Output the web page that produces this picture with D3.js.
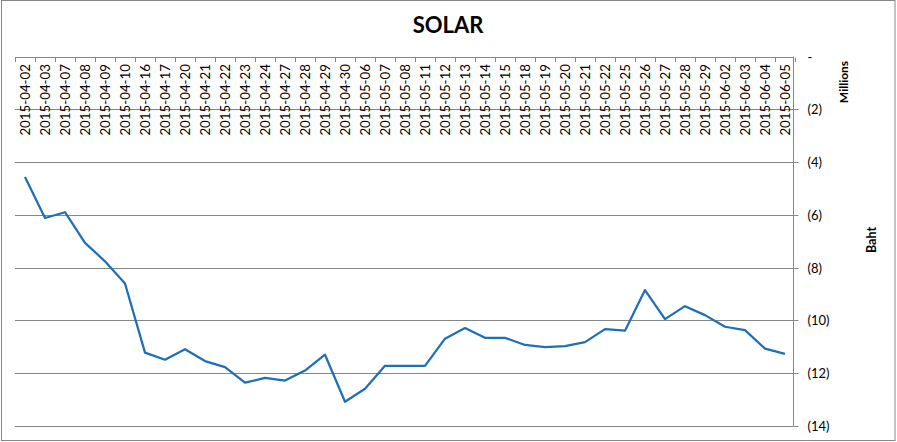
<!DOCTYPE html>
<html>
<head>
<meta charset="utf-8">
<script src="https://cdn.jsdelivr.net/npm/d3@7"></script>
<style>
  html, body { margin: 0; padding: 0; background: #fff; }
  svg { display: block; }
  text { font-family: Lato, "Open Sans", sans-serif; fill: #000; }
</style>
</head>
<body>
<div id="chart"></div>
<script>
const title = "SOLAR";
const dates = ["2015-04-02","2015-04-03","2015-04-07","2015-04-08","2015-04-09","2015-04-10","2015-04-16","2015-04-17","2015-04-20","2015-04-21","2015-04-22","2015-04-23","2015-04-24","2015-04-27","2015-04-28","2015-04-29","2015-04-30","2015-05-06","2015-05-07","2015-05-08","2015-05-11","2015-05-12","2015-05-13","2015-05-14","2015-05-15","2015-05-18","2015-05-19","2015-05-20","2015-05-21","2015-05-22","2015-05-25","2015-05-26","2015-05-27","2015-05-28","2015-05-29","2015-06-02","2015-06-03","2015-06-04","2015-06-05"];
// values in millions of Baht
const values = [-4.57,-6.12,-5.90,-7.06,-7.76,-8.60,-11.22,-11.49,-11.09,-11.54,-11.77,-12.36,-12.18,-12.28,-11.90,-11.30,-13.08,-12.59,-11.72,-11.72,-11.72,-10.69,-10.29,-10.66,-10.66,-10.93,-11.01,-10.97,-10.82,-10.33,-10.39,-8.85,-9.95,-9.46,-9.80,-10.24,-10.37,-11.07,-11.27];
const yTicks = [0,-2,-4,-6,-8,-10,-12,-14];
const yUnitLabel = "Millions";
const yAxisTitle = "Baht";

const W = 897, H = 442;
const plot = { left: 15, right: 795, top: 56.5, bottom: 426 };

const svg = d3.select("#chart").append("svg").attr("width", W).attr("height", H);

// outer border
svg.append("rect").attr("x", 1.5).attr("y", 0.5).attr("width", 893.5).attr("height", 440)
  .attr("fill", "#fff").attr("stroke", "#868686").attr("stroke-width", 1);

const x = d3.scaleBand().domain(dates).range([plot.left, plot.right]).padding(0);
const y = d3.scaleLinear().domain([0, -14]).range([plot.top, plot.bottom]);

const axisX = 793.5;

// gridlines
svg.append("g").selectAll("line").data(yTicks).join("line")
  .attr("x1", plot.left).attr("x2", axisX)
  .attr("y1", d => Math.round(y(d)) + 0.5).attr("y2", d => Math.round(y(d)) + 0.5)
  .attr("stroke", "#868686").attr("stroke-width", 1);

// right y axis
const yAxis = d3.axisRight(y).tickValues(yTicks).tickSize(5).tickPadding(9)
  .tickFormat(d => d === 0 ? "-" : "(" + Math.abs(d) + ")");
const gy = svg.append("g").attr("transform", `translate(${axisX},0)`).call(yAxis);
gy.select(".domain").attr("stroke", "#868686").attr("d", `M0,${y(0)}V${y(-14)}`);
gy.selectAll(".tick line").attr("stroke", "#868686");
gy.selectAll(".tick").attr("transform", d => `translate(0,${Math.round(y(d)) + 0.5})`);
gy.selectAll(".tick text").style("font-size", "13px").attr("fill", "#000");
gy.selectAll(".tick").filter(d => d === 0).select("line").remove();

// top category axis (ticks at band boundaries)
const boundaries = dates.map(d => x(d)).concat([x(dates[dates.length - 1]) + x.bandwidth()]);
svg.append("g").selectAll("line").data(boundaries).join("line")
  .attr("x1", d => Math.round(d) + 0.5).attr("x2", d => Math.round(d) + 0.5)
  .attr("y1", Math.round(y(0)) + 0.5).attr("y2", Math.round(y(0)) + 5)
  .attr("stroke", "#868686");

svg.append("g").selectAll("text").data(dates).join("text")
  .attr("transform", d => `translate(${x(d) + x.bandwidth() / 2},64) rotate(-90)`)
  .attr("text-anchor", "end").attr("dy", "0.35em")
  .style("font-size", "13.3px").style("fill", "#000")
  .text(d => d);

// line
const line = d3.line().x((d, i) => x(dates[i]) + x.bandwidth() / 2).y(d => y(d));
svg.append("path").datum(values).attr("d", line)
  .attr("fill", "none").attr("stroke", "#1f6fb6").attr("stroke-width", 2.25)
  .attr("stroke-linejoin", "round");

// title
svg.append("text").attr("x", 448).attr("y", 33).attr("text-anchor", "middle")
  .style("font-size", "22px").style("font-weight", "bold").text(title);

// unit label and axis title
svg.append("text").attr("transform", "translate(844,82) rotate(-90)")
  .attr("text-anchor", "middle").attr("dy", "0.35em")
  .style("font-size", "12px").style("font-weight", "bold").text(yUnitLabel);
svg.append("text").attr("transform", "translate(872,240) rotate(-90)")
  .attr("text-anchor", "middle").attr("dy", "0.35em")
  .style("font-size", "12.5px").style("font-weight", "bold").text(yAxisTitle);
</script>
</body>
</html>
